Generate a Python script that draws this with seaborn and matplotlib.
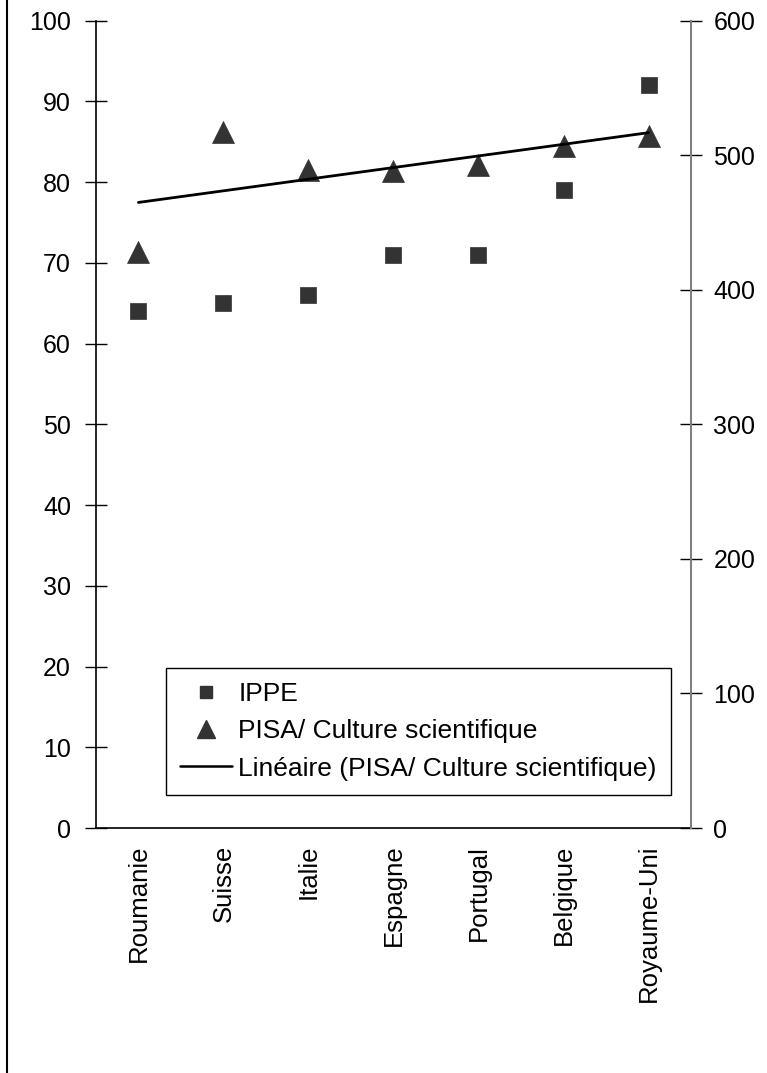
import matplotlib
matplotlib.use("Agg")
import matplotlib.pyplot as plt
import seaborn as sns
import numpy as np
import pandas as pd
from matplotlib.lines import Line2D

# ---- data ----
countries = ["Roumanie", "Suisse", "Italie", "Espagne", "Portugal", "Belgique", "Royaume-Uni"]
ippe = [64, 65, 66, 71, 71, 79, 92]
pisa = [428, 517, 489, 488, 493, 507, 514]
left_ticks = [0, 10, 20, 30, 40, 50, 60, 70, 80, 90, 100]
right_ticks = [0, 100, 200, 300, 400, 500, 600]
legend_labels = ["IPPE", "PISA/ Culture scientifique", "Linéaire (PISA/ Culture scientifique)"]

sns.set_style("white")
plt.rcParams["font.family"] = ["Liberation Sans", "DejaVu Sans"]
plt.rcParams["text.color"] = "black"
plt.rcParams["xtick.color"] = "black"
plt.rcParams["ytick.color"] = "black"

df = pd.DataFrame({"pos": np.arange(len(countries)), "country": countries,
                   "ippe": ippe, "pisa": pisa})

fig = plt.figure(figsize=(7.67, 10.73), dpi=100)
ax = fig.add_axes([0.125, 0.2283, 0.776, 0.7524])
ax2 = ax.twinx()

mark_col = "#333333"
sns.scatterplot(data=df, x="pos", y="ippe", ax=ax, marker="s", s=117,
                color=mark_col, edgecolor=mark_col, linewidth=0.5, zorder=3)
sns.scatterplot(data=df, x="pos", y="pisa", ax=ax2, marker="^", s=250,
                color=mark_col, edgecolor=mark_col, linewidth=0.5, zorder=3)
sns.regplot(data=df, x="pos", y="pisa", ax=ax2, scatter=False, ci=None,
            truncate=True, line_kws=dict(color="black", lw=2.0, zorder=4))

ax.set_xlim(-0.5, len(countries) - 0.5)
ax2.set_xlim(-0.5, len(countries) - 0.5)
ax.set_ylim(0, 100)
ax2.set_ylim(0, 600)
ax.set_xlabel("")
ax.set_ylabel("")
ax2.set_xlabel("")
ax2.set_ylabel("")

# x ticks: boundaries (major) and labels (minor)
ax.set_xticks(np.arange(-0.5, len(countries), 1.0))
ax.set_xticklabels([])
ax.set_xticks(np.arange(len(countries)), minor=True)
ax.set_xticklabels(countries, minor=True, rotation=90, fontsize=18.5)
ax.tick_params(axis="x", which="major", direction="inout", length=16, width=1,
               color="black")
ax.tick_params(axis="x", which="minor", length=0, pad=12, labelcolor="black")

ax.set_yticks(left_ticks)
ax.set_yticklabels([str(t) for t in left_ticks], fontsize=18)
ax.tick_params(axis="y", direction="inout", length=16, width=1, color="black",
               pad=10, left=True, labelcolor="black")

ax2.set_yticks(right_ticks)
ax2.set_yticklabels([str(t) for t in right_ticks], fontsize=18)
ax2.tick_params(axis="y", direction="inout", length=16, width=1, color="black",
                pad=8, right=True, labelcolor="black")

for name, sp in ax.spines.items():
    sp.set_visible(name in ("left", "bottom"))
    sp.set_color("black")
    sp.set_linewidth(1.2)
for name, sp in ax2.spines.items():
    sp.set_visible(name == "right")
    sp.set_color("#808080")
    sp.set_linewidth(1.5)

ax.grid(False)
ax2.grid(False)

handles = [
    Line2D([], [], linestyle="none", marker="s", markersize=9, color=mark_col),
    Line2D([], [], linestyle="none", marker="^", markersize=13, color=mark_col),
    Line2D([], [], color="black", lw=1.8),
]
leg = ax2.legend(handles, legend_labels, loc="lower left",
                 bbox_to_anchor=(0.1176, 0.0409), borderaxespad=0,
                 fontsize=19, frameon=True, fancybox=False,
                 handlelength=1.95, handletextpad=0.25, labelspacing=0.5,
                 borderpad=0.55)
leg.get_frame().set_edgecolor("black")
leg.get_frame().set_linewidth(1.0)
leg.get_frame().set_alpha(1)
for t in leg.get_texts():
    t.set_color("black")

# left border line of the figure
fig.add_artist(Line2D([0.0095, 0.0095], [0, 1], transform=fig.transFigure,
                      color="black", lw=1.5))

fig.savefig("out.png", dpi=100)
